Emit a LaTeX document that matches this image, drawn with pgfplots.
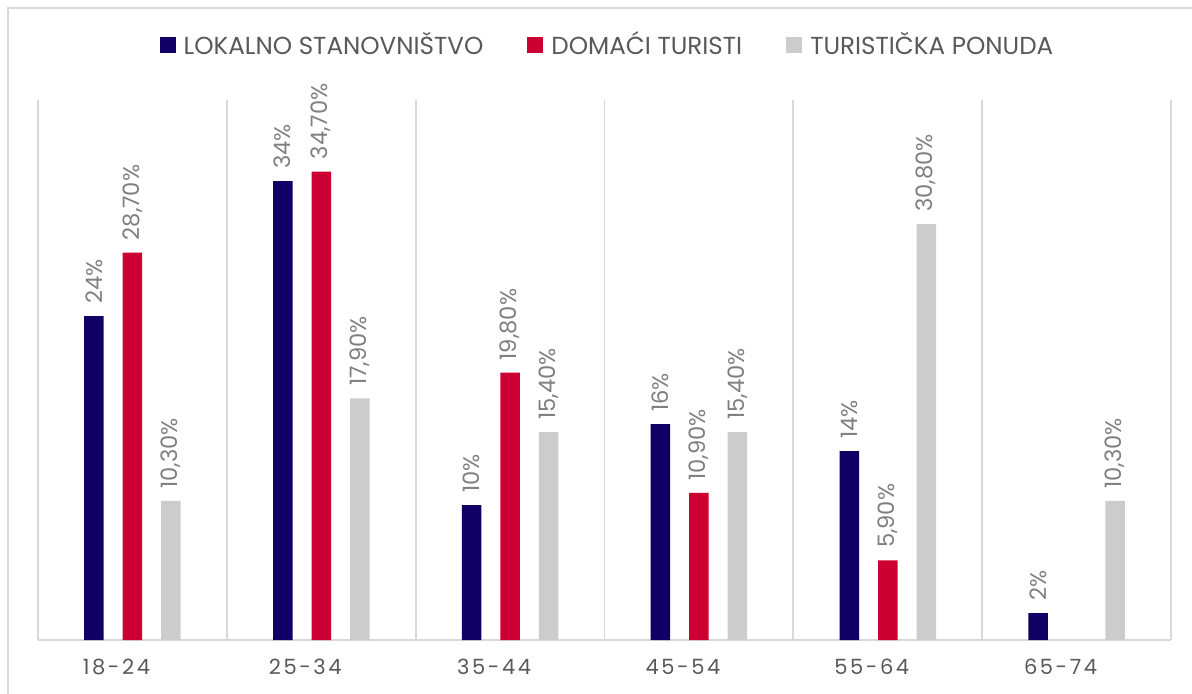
\documentclass[border=0pt]{standalone}
\usepackage{fontspec}
\setmainfont{Poppins}
\usepackage{pgfplots}
\pgfplotsset{compat=1.18}

\definecolor{cLok}{RGB}{16,0,102}
\definecolor{cDom}{RGB}{204,0,51}
\definecolor{cTur}{RGB}{204,204,204}
\definecolor{cGrid}{RGB}{217,217,217}
\definecolor{cLab}{RGB}{127,127,127}
\definecolor{cTick}{RGB}{89,89,89}

\newcommand{\tsp}{\kern1.3pt}

\pgfplotstableread{
x y lab
0 24 24
1 34 34
2 10 10
3 16 16
4 14 14
5 2 2
}\lokalno
\pgfplotstableread{
x y lab
0 28.7 28,70
1 34.7 34,70
2 19.8 19,80
3 10.9 10,90
4 5.9 5,90
}\domaci
\pgfplotstableread{
x y lab
0 10.3 10,30
1 17.9 17,90
2 15.4 15,40
3 15.4 15,40
4 30.8 30,80
5 10.3 10,30
}\turisticka

\begin{document}
\begin{tikzpicture}
\useasboundingbox (-19pt,-26.5pt) rectangle (577pt,320pt);
\draw[cGrid, line width=1.2pt] (-15pt,-40pt) -- (-15pt,316pt) -- (600pt,316pt);
\begin{axis}[
    scale only axis,
    width=566.5pt, height=270pt,
    at={(0,0)}, anchor=south west,
    xmin=-0.5, xmax=5.5, ymin=0, ymax=40,
    ybar=9.5pt, bar width=9.75pt,
    axis x line*=bottom, axis y line=none,
    x axis line style={cGrid, line width=0.9pt, -},
    xtick={0,...,5},
    xticklabels={1\tsp8\tsp-\tsp2\tsp4, 2\tsp5\tsp-\tsp3\tsp4, 3\tsp5\tsp-\tsp4\tsp4, 4\tsp5\tsp-\tsp5\tsp4, 5\tsp5\tsp-\tsp6\tsp4, 6\tsp5\tsp-\tsp7\tsp4},
    xticklabel style={font=\fontsize{10.5}{13}\selectfont, text=cTick, yshift=-6pt, xshift=-8pt},
    major tick length=0pt, minor tick length=0pt,
    minor xtick={-0.5,0.5,...,5.5},
    xminorgrids=true,
    minor x grid style={cGrid, line width=0.9pt},
    ytick=\empty,
    point meta=explicit symbolic,
    nodes near coords={\pgfplotspointmeta\%},
    every node near coord/.append style={rotate=90, anchor=west, font=\fontsize{11.3}{13}\selectfont, text=cLab, inner sep=1pt, xshift=5pt},
    legend style={at={(0.5,1)}, yshift=27.5pt, xshift=2pt, anchor=center, draw=none, fill=none,
        legend columns=-1, font=\fontsize{12.3}{14}\selectfont, text=cTick,
        /tikz/every even column/.append style={column sep=20pt},
        /tikz/every odd column/.append style={column sep=2pt}},
    legend image code/.code={\fill[#1] (0pt,-4pt) rectangle (8pt,4pt);},
]
\addplot[fill=cLok, draw=none] table[x=x, y=y, meta=lab] {\lokalno};
\addplot[fill=cDom, draw=none] table[x=x, y=y, meta=lab] {\domaci};
\addplot[fill=cTur, draw=none] table[x=x, y=y, meta=lab] {\turisticka};
\legend{LOKALNO STANOVNIŠTVO, DOMAĆI TURISTI, TURISTIČKA PONUDA}
\end{axis}
\end{tikzpicture}
\end{document}
